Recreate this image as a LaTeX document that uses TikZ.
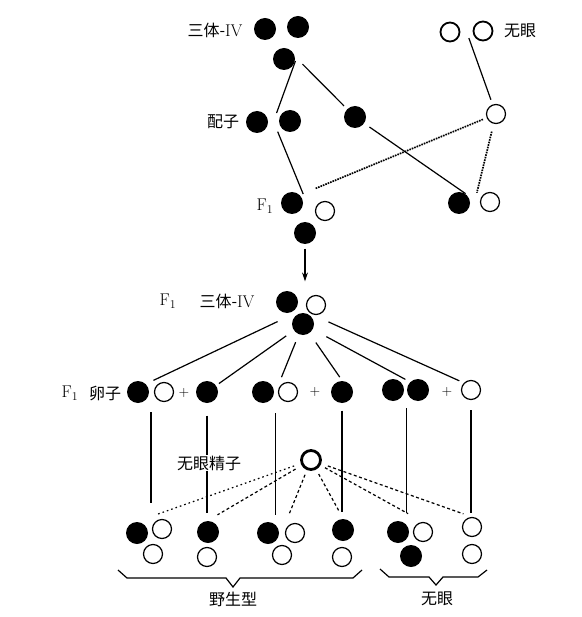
\documentclass[tikz,border=0pt]{standalone}
\usepackage{fontspec}
\newfontfamily\cjk{Noto Sans CJK SC}
\usetikzlibrary{calc,arrows.meta}
\begin{document}
\begin{tikzpicture}[x=1pt,y=-1pt,line width=1.2pt,
        fil/.style={circle,fill=black,inner sep=0pt,minimum size=22pt},
        hol/.style={circle,draw,inner sep=0pt,minimum size=19pt},
        lbl/.style={font=\cjk\fontsize{16}{18}\selectfont,inner sep=1pt},
        fl/.style={font=\rmfamily\fontsize{17}{19}\selectfont,inner sep=1pt},
        pl/.style={font=\rmfamily\fontsize{14}{16}\selectfont,inner sep=0pt},
        dotl/.style={line width=1.7pt,dash pattern=on 1.6pt off 1pt},
        dotm/.style={dash pattern=on 1.6pt off 3pt},
        dashm/.style={dash pattern=on 3pt off 2.5pt}]
        \useasboundingbox (0,0) rectangle (581,617);
        % parents
        \node [fil] (tri1) at (265,29) {};
        \node [fil] (tri2) at (298,27) {};
        \node [fil] (tri3) at (284,59) {};
        \node [hol,line width=1.8pt] (ey1) at (450,32) {};
        \node [hol,line width=1.8pt] (ey2) at (483,31) {};
        \path (215,30) node [lbl] (lTri) {三体-{\rmfamily\fontsize{17}{19}\selectfont IV}};
        \path (520,31) node [lbl] (lEye) {无眼};
        % gametes
        \node [fil] (ga1) at (257,122) {};
        \node [fil] (ga2) at (290,121) {};
        \node [fil] (ga3) at (355,117) {};
        \node [hol] (gb) at (496,114) {};
        \path (223,122) node [lbl] (lGam) {配子};
        % F1
        \node [fil] (fa1) at (292,203) {};
        \node [hol] (fb1) at (325,211) {};
        \node [fil] (fa2) at (305,233) {};
        \node [fil] (fd) at (459,203) {};
        \node [hol] (fe) at (490,202) {};
        \path (265,206) node [fl] (lF1a) {F\textsubscript{1}};
        \coordinate (gagap) at ($(ga1)!0.5!(ga2)$);
        \coordinate (fgap) at ($(fa1)!0.5!(fb1)$);
        \coordinate (eygap) at ($(ey1)!0.5!(ey2)$);
        \coordinate (fdgap) at ($(fd)!0.5!(fe)$);
        \draw [shorten >=9pt] (tri3.-10) -- (gagap);
        \draw [shorten <=11pt,shorten >=14pt] (gagap) -- (fgap);
        \draw [shorten <=10pt,shorten >=4pt] (tri3.10) -- (ga3);
        \draw [shorten <=6pt,shorten >=2pt] (ga3) -- (fd.north east);
        \draw [shorten <=7pt,shorten >=5pt] (eygap) -- (gb);
        \draw [dotl,shorten <=4pt,shorten >=16pt] (gb) -- (fa1.north east);
        \draw [dotl,shorten <=8pt,shorten >=10pt] (gb) -- (fdgap);
        % F1 trisomic
        \node [fil] (ta1) at (287,302) {};
        \node [hol] (tb1) at (316,305) {};
        \node [fil] (ta2) at (303,324) {};
        \coordinate (trio) at (302,310);
        \path (168,301) node [fl] (lF1b) {F\textsubscript{1}};
        \path (227,301) node [lbl] (lTri2) {三体-{\rmfamily\fontsize{17}{19}\selectfont IV}};
        \draw [-{Stealth[length=9pt,width=6pt]},shorten <=4pt,shorten >=9pt] (fa2) -- (fa2 |- ta1.north);
        % eggs
        \node [fil] (e1a) at (138,392) {};
        \node [hol] (e1b) at (164,392) {};
        \node [fil] (e1c) at (207,392) {};
        \node [fil] (e2a) at (263,392) {};
        \node [hol] (e2b) at (288,392) {};
        \node [fil] (e2c) at (342,392) {};
        \node [fil] (e3a) at (393,390) {};
        \node [fil] (e3b) at (418,390) {};
        \node [hol] (e3c) at (471,390) {};
        \path (184,393) node [pl] (pl1) {+};
        \path (315,392) node [pl] (pl2) {+};
        \path (447,392) node [pl] (pl3) {+};
        \path (70,393) node [fl] (lF1c) {F\textsubscript{1}};
        \path (105,393) node [lbl] (lEgg) {卵子};
        \coordinate (e1gap) at ($(e1a)!0.5!(e1b)$);
        \coordinate (e2gap) at ($(e2a)!0.5!(e2b)$);
        \draw [shorten <=27pt,shorten >=8pt] (trio) -- (e1a.north east);
        \draw [shorten <=9pt,shorten >=3pt] (ta2) -- (e1c);
        \draw [shorten <=8pt,shorten >=16pt] (ta2) -- (e2gap);
        \draw [shorten <=11pt,shorten >=4pt] (ta2) -- (e2c.north);
        \draw [shorten <=15pt,shorten >=5pt] (ta2) -- (e3b.north west);
        \draw [shorten <=29pt,shorten >=5pt] (trio) -- (e3c.north west);
        % offspring
        \node [fil] (o1a) at (137,533) {};
        \node [hol] (o1b) at (162,529) {};
        \node [hol] (o1c) at (153,554) {};
        \node [fil] (o2a) at (208,532) {};
        \node [hol] (o2b) at (207,557) {};
        \node [fil] (o3a) at (268,533) {};
        \node [hol] (o3b) at (295,533) {};
        \node [hol] (o3c) at (282,555) {};
        \node [fil] (o4a) at (343,530) {};
        \node [hol] (o4b) at (342,557) {};
        \node [fil] (o5a) at (398,532) {};
        \node [hol] (o5b) at (423,532) {};
        \node [fil] (o5c) at (411,556) {};
        \node [hol] (o6a) at (472,527) {};
        \node [hol] (o6b) at (472,554) {};
        \coordinate (o3gap) at ($(o3a)!0.5!(o3b)$);
        \draw [shorten <=20pt,shorten >=30pt] (e1gap) -- (e1gap |- o1a);
        \draw [shorten <=12pt,shorten >=19pt] (e1c) -- (e1c |- o2a);
        \draw [shorten <=21pt,shorten >=18pt] (e2gap) -- (e2gap |- o3a);
        \draw [shorten <=7pt,shorten >=18pt] (e2c) -- (e2c |- o4a);
        \draw [shorten <=18pt,shorten >=19pt] (e3b.west) -- (e3b.west |- o5a);
        \draw [shorten <=10pt,shorten >=14pt] (e3c) -- (e3c |- o6a);
        % sperm
        \node [hol,line width=2.8pt] (sp) at (311,460) {};
        \path (209,463) node [lbl,fill=white] (lSp) {无眼精子};
        \draw [dotm,shorten <=7pt,shorten >=22pt] (sp) -- (o1a.north);
        \draw [dashm,shorten <=7pt,shorten >=11pt] (sp) -- (o2a.north);
        \draw [dashm,shorten <=5pt,shorten >=21pt] (sp) -- (o3gap);
        \draw [dashm,shorten <=5pt,shorten >=7pt] (sp) -- (o4a.north);
        \draw [dashm,shorten <=5pt,shorten >=17pt] (sp) -- (o5b.north);
        \draw [dashm,shorten <=7pt,shorten >=9pt] (sp) -- (o6a.north);
        % braces
        \draw (118,570) -- (127,578) -- (226,578) -- (233,587) -- (240,578) -- (353,578) -- (362,570);
        \draw (380,569) -- (389,577) -- (429,577) -- (436,585) -- (443,577) -- (478,577) -- (487,570);
        \path (233,599) node [lbl] (lWild) {野生型};
        \path (437,599) node [lbl] (lNoEye) {无眼};
\end{tikzpicture}
\end{document}
